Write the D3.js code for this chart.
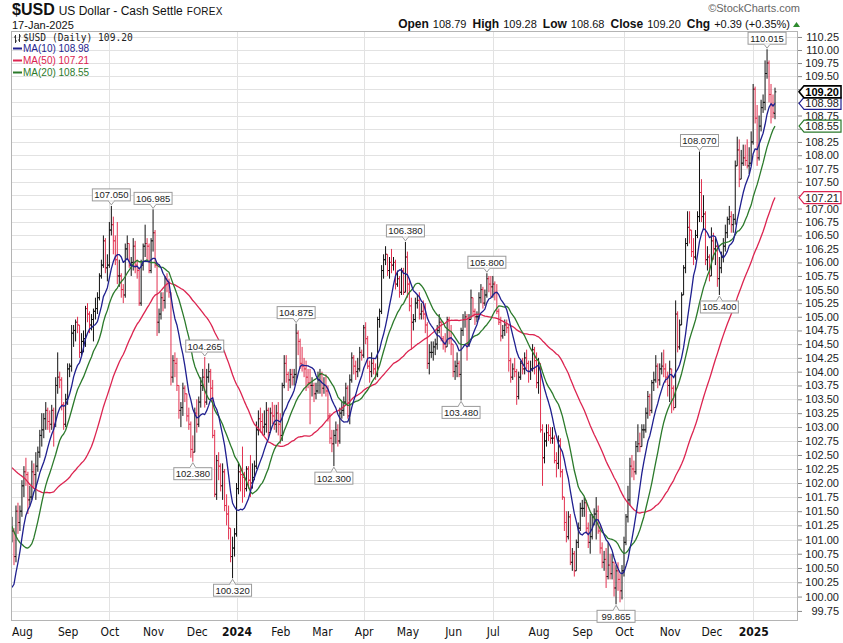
<!DOCTYPE html>
<html><head><meta charset="utf-8">
<script src="https://cdn.jsdelivr.net/npm/d3@7/dist/d3.min.js"></script>
<style>
html,body{margin:0;padding:0;background:#fff;}
svg{display:block;font-family:"Liberation Sans",Arial,sans-serif;}
</style></head>
<body>
<svg id="chart" width="843" height="643"></svg>
<script>
// ---------------- DATA ----------------
const symbol = "$USD";
const title = "US Dollar - Cash Settle";
const exchange = "FOREX";
const lastDate = "17-Jan-2025";
const holidays = ["2023-12-25","2024-01-01","2024-12-25","2025-01-01"];
const firstDay = "2023-07-25", lastDay = "2025-01-17";

// closes before the visible window (15-May-2023 .. 24-Jul-2023), used only for moving averages
const preClose = [102.08,102.21,102.53,103.20,102.85,102.85,103.15,103.55,103.90,103.85,103.95,103.75,103.95,103.20,103.65,
103.65,103.75,103.55,102.95,103.20,103.25,102.95,102.60,101.75,101.90,102.15,102.15,101.75,102.05,102.55,102.35,102.15,
102.65,103.05,102.55,102.50,102.50,102.90,102.70,101.80,101.20,101.20,100.15,99.45,99.55,99.55,99.55,99.95,100.45,100.75,101.05];

const open = [101.05,101.15,100.70,101.50,101.30,
101.50,101.95,102.20,102.15,101.70,101.75,102.20,102.15,102.30,102.55,102.85,102.95,103.15,103.30,103.10,103.05,103.30,103.05,103.75,103.90,103.85,103.40,103.05,
103.50,104.05,104.10,104.70,104.75,104.90,104.85,104.35,104.55,104.60,105.15,105.05,104.85,104.95,105.10,105.15,105.35,105.75,105.95,106.40,105.90,
105.95,106.60,106.70,106.40,106.05,105.75,105.75,105.50,105.40,106.25,106.35,105.95,106.00,106.30,105.95,105.85,105.25,105.95,106.30,106.35,106.30,105.85,
106.40,106.55,105.95,104.90,105.05,105.35,105.30,105.70,105.65,105.45,103.90,104.20,104.15,103.75,103.30,103.35,103.70,103.60,103.20,103.05,102.60,102.55,
103.25,103.05,103.45,103.75,103.90,103.45,103.90,104.00,103.70,102.85,101.80,102.40,102.30,101.95,102.20,101.60,101.45,101.20,100.70,100.85,
101.10,101.90,102.20,102.15,102.10,101.90,102.25,102.05,102.00,102.10,102.30,102.95,103.15,103.10,103.00,103.05,103.30,102.90,103.25,103.20,103.05,103.25,
103.05,102.85,103.75,104.15,103.95,103.85,103.95,103.90,103.95,104.70,104.55,104.15,104.10,104.05,103.90,103.80,103.75,103.75,103.60,103.65,103.85,
103.95,103.70,103.75,103.65,103.20,102.80,102.70,102.85,102.95,102.75,103.25,103.30,103.45,103.70,103.20,103.85,104.25,104.10,104.00,104.05,104.35,
104.30,104.80,104.60,104.10,104.00,104.15,104.05,103.95,104.95,105.10,105.85,106.05,106.15,105.85,106.00,105.95,106.00,105.60,105.70,105.45,105.85,105.45,
106.10,105.60,105.20,104.90,104.95,105.25,105.30,105.05,105.10,105.05,104.85,104.15,104.35,104.35,104.45,104.50,104.75,104.90,104.60,104.50,104.45,104.95,104.60,
104.50,104.00,104.10,104.15,103.95,104.75,104.95,105.00,104.50,104.95,105.35,105.10,105.00,105.00,105.35,105.50,105.25,105.40,105.70,105.60,
105.55,105.60,105.45,105.10,104.90,104.65,104.75,104.85,104.80,104.20,103.90,104.05,104.00,103.55,103.90,104.15,104.05,104.25,104.15,104.00,104.05,104.40,104.20,
103.80,104.15,102.95,102.45,102.75,102.90,102.85,102.80,102.80,102.40,102.35,102.75,102.20,101.75,101.30,101.05,101.40,100.60,100.75,100.45,100.95,101.20,
101.55,101.55,101.65,101.20,100.95,101.05,101.40,101.45,101.50,101.15,100.85,100.60,100.65,100.35,100.55,100.40,100.60,100.15,100.45,100.30,100.10,
100.45,100.95,101.40,101.70,102.30,102.25,102.20,102.65,102.70,102.65,102.95,102.95,103.25,103.55,103.30,103.80,103.85,104.10,103.85,104.05,104.10,104.05,103.90,
103.75,104.05,103.70,103.35,105.05,104.45,104.85,105.40,105.90,106.35,106.65,106.60,106.20,106.10,106.50,106.85,107.30,106.85,106.90,106.05,106.10,
105.75,106.40,106.25,106.30,105.70,105.90,106.10,106.30,106.55,106.80,106.85,106.70,106.80,107.80,108.10,107.55,107.85,107.95,107.90,107.80,107.85,
108.25,109.25,108.70,107.95,108.55,108.90,109.00,109.55,109.75,109.15,108.95,108.79];

const high = [101.40,101.20,101.60,101.65,101.60,
102.05,102.30,102.45,102.20,101.95,102.40,102.35,102.55,102.65,102.95,103.25,103.25,103.45,103.35,103.30,103.40,103.35,103.90,104.35,104.00,103.90,103.45,103.60,
104.15,104.15,104.85,104.85,104.95,105.00,104.85,104.70,104.75,105.20,105.25,105.10,105.05,105.15,105.35,105.45,105.80,106.05,106.50,106.45,106.15,
106.75,107.05,106.85,106.50,106.75,106.05,105.80,105.60,106.35,106.50,106.35,106.10,106.45,106.40,106.05,105.90,106.05,106.35,106.70,106.45,106.35,106.45,
106.985,106.60,106.00,105.15,105.45,105.45,105.75,105.80,105.70,105.45,104.30,104.35,104.25,103.75,103.45,103.80,103.75,103.60,103.35,103.10,102.85,103.35,
103.50,103.55,103.90,104.05,104.265,104.05,104.15,104.05,103.85,102.95,102.50,102.55,102.35,102.35,102.25,101.80,101.60,101.20,101.05,101.20,
102.00,102.35,102.30,102.65,102.20,102.30,102.30,102.50,102.35,102.40,103.10,103.30,103.35,103.25,103.30,103.45,103.35,103.35,103.45,103.40,103.40,103.45,
103.25,103.80,104.30,104.30,104.00,104.05,104.05,104.05,104.875,104.75,104.60,104.45,104.25,104.20,104.05,104.05,103.90,103.80,103.80,104.00,104.05,
104.00,103.90,103.95,103.75,103.25,102.95,102.95,103.10,103.05,103.35,103.45,103.55,103.80,103.75,103.95,104.35,104.30,104.20,104.25,104.45,104.40,
104.85,104.90,104.65,104.20,104.35,104.25,104.15,105.00,105.15,105.95,106.15,106.30,106.15,106.10,106.25,106.10,106.05,105.85,105.75,105.90,105.90,106.38,
106.20,105.70,105.35,105.05,105.35,105.40,105.45,105.25,105.30,105.25,104.90,104.50,104.55,104.55,104.60,104.85,105.05,104.95,104.65,104.70,105.00,105.00,104.85,
104.50,104.20,104.35,104.20,104.80,105.05,105.10,105.05,105.05,105.50,105.35,105.15,105.10,105.45,105.60,105.55,105.50,105.80,105.75,105.75,
105.75,105.65,105.60,105.15,105.00,104.85,104.95,104.95,104.85,104.25,104.15,104.25,104.05,104.00,104.20,104.25,104.35,104.40,104.20,104.20,104.50,104.45,104.35,
104.25,104.15,103.05,102.90,103.05,103.05,103.00,103.00,102.85,102.55,102.85,102.80,102.25,101.75,101.50,101.50,101.45,100.85,100.80,101.00,101.30,101.65,
101.70,101.75,101.70,101.30,101.45,101.45,101.55,101.75,101.60,101.25,100.95,100.80,100.85,100.95,100.75,100.75,100.60,100.55,100.60,100.40,100.55,
101.05,101.45,101.95,102.45,102.50,102.40,102.75,103.05,102.90,103.05,103.05,103.35,103.65,103.60,103.85,104.00,104.30,104.15,104.15,104.35,104.40,104.15,104.00,
104.20,104.05,103.75,105.30,105.10,104.95,105.45,105.95,106.45,106.95,106.95,106.60,106.45,106.60,106.95,108.07,107.55,107.25,106.95,106.30,106.15,
106.65,106.55,106.45,106.35,106.10,106.20,106.45,106.70,106.85,107.05,106.95,106.90,107.90,108.35,108.30,108.10,108.20,108.20,108.30,108.15,108.45,
109.35,109.30,108.95,108.75,109.05,109.15,109.80,110.015,109.80,109.35,109.15,109.28];

const low = [100.95,100.55,100.60,101.10,101.15,
101.40,101.75,101.95,101.45,101.60,101.70,101.90,101.70,102.20,102.45,102.65,102.80,102.95,102.95,102.90,102.95,102.65,103.00,103.60,103.70,103.30,102.95,103.00,
103.40,103.90,104.00,104.45,104.55,104.70,104.25,104.30,104.35,104.45,104.90,104.70,104.75,104.55,104.95,105.05,105.30,105.70,105.90,105.80,105.65,
105.90,106.50,106.15,105.95,105.60,105.55,105.35,105.25,105.35,106.05,105.90,105.75,105.85,105.80,105.70,105.20,105.20,105.85,106.10,106.05,105.80,105.80,
106.20,105.90,104.65,104.70,104.95,105.10,105.15,105.45,105.35,103.75,103.80,103.90,103.65,103.15,103.00,103.20,103.45,103.10,102.95,102.45,102.38,102.55,
102.90,103.00,103.35,103.65,103.35,103.40,103.80,103.50,102.80,101.75,101.70,102.05,101.85,101.70,101.50,101.25,101.00,100.60,100.32,100.70,
101.05,101.80,101.85,101.65,101.75,101.85,101.90,101.75,101.90,102.05,102.25,102.85,102.90,102.85,102.85,102.90,102.80,102.90,103.05,102.95,102.90,102.85,
102.70,102.75,103.70,103.80,103.65,103.70,103.75,103.75,103.80,104.30,104.05,104.00,103.90,103.65,103.70,103.05,103.55,103.45,103.50,103.60,103.60,
103.55,103.60,103.55,103.10,102.70,102.55,102.30,102.70,102.65,102.70,103.15,103.20,103.40,103.15,103.05,103.80,103.95,103.85,103.90,104.00,104.20,
104.25,104.50,104.05,103.80,103.90,103.95,103.85,103.90,104.80,105.05,105.70,105.95,105.75,105.70,105.80,105.85,105.50,105.55,105.35,105.40,105.40,105.45,
105.35,105.10,104.40,104.75,104.90,105.15,104.95,104.95,104.95,104.70,104.05,103.95,104.25,104.20,104.30,104.40,104.70,104.55,104.40,104.35,104.45,104.50,104.30,
103.90,103.85,103.90,103.90,103.48,104.65,104.80,104.20,104.45,104.95,105.00,104.85,104.90,104.95,105.25,105.15,105.20,105.35,105.45,105.35,
105.35,105.30,105.05,104.85,104.55,104.60,104.65,104.70,104.00,103.80,103.85,103.90,103.40,103.50,103.85,103.95,103.95,104.05,103.80,103.85,104.00,103.95,103.70,
103.60,102.90,101.95,102.35,102.65,102.75,102.70,102.70,102.35,102.10,102.25,102.10,101.70,101.15,100.95,101.00,100.55,100.45,100.35,100.45,100.85,101.15,
101.40,101.40,101.10,100.85,100.75,101.00,101.25,101.00,101.10,100.75,100.50,100.45,100.15,100.30,100.30,100.30,100.00,99.865,100.10,99.90,99.95,
100.35,100.90,101.30,101.60,102.10,102.05,102.15,102.55,102.55,102.65,102.80,102.90,103.15,103.20,103.25,103.65,103.80,103.70,103.75,103.95,103.90,103.80,103.55,
103.45,103.25,103.30,103.35,104.35,104.40,104.85,105.40,105.80,106.30,106.35,106.10,105.95,106.05,106.45,106.75,106.75,106.60,105.95,105.85,105.65,
105.75,106.05,105.95,105.55,105.40,105.80,106.00,106.20,106.45,106.70,106.55,106.55,106.70,107.80,107.40,107.55,107.80,107.80,107.75,107.65,107.80,
108.20,108.60,107.80,107.90,108.45,108.80,108.85,109.45,109.00,108.60,108.70,108.68];

const close = [101.15,100.70,101.50,101.30,101.50,
101.95,102.20,102.15,101.70,101.75,102.20,102.15,102.30,102.55,102.85,102.95,103.15,103.30,103.10,103.05,103.30,103.05,103.75,103.90,103.85,103.40,103.05,103.50,
104.05,104.10,104.70,104.75,104.90,104.85,104.35,104.55,104.60,105.15,105.05,104.85,104.95,105.10,105.15,105.35,105.75,105.95,106.40,105.90,105.95,
106.60,106.70,106.40,106.05,105.75,105.75,105.50,105.40,106.25,106.35,105.95,106.00,106.30,105.95,105.85,105.25,105.95,106.30,106.35,106.30,105.85,106.40,
106.55,105.95,104.90,105.05,105.35,105.30,105.70,105.65,105.45,103.90,104.20,104.15,103.75,103.30,103.35,103.70,103.60,103.20,103.05,102.60,102.55,103.25,
103.05,103.45,103.75,103.90,103.45,103.90,104.00,103.70,102.85,101.80,102.40,102.30,101.95,102.20,101.60,101.45,101.20,100.70,100.85,101.10,
101.90,102.20,102.15,102.10,101.90,102.25,102.05,102.00,102.10,102.30,102.95,103.15,103.10,103.00,103.05,103.30,102.90,103.25,103.20,103.05,103.25,103.05,
102.85,103.75,104.15,103.95,103.85,103.95,103.90,103.95,104.70,104.55,104.15,104.10,104.05,103.90,103.80,103.75,103.75,103.60,103.65,103.85,103.95,
103.70,103.75,103.65,103.20,102.80,102.70,102.85,102.95,102.75,103.25,103.30,103.45,103.70,103.20,103.85,104.25,104.10,104.00,104.05,104.35,104.30,
104.80,104.60,104.10,104.00,104.15,104.05,103.95,104.95,105.10,105.85,106.05,106.15,105.85,106.00,105.95,106.00,105.60,105.70,105.45,105.85,105.45,106.10,
105.60,105.20,104.90,104.95,105.25,105.30,105.05,105.10,105.05,104.85,104.15,104.35,104.35,104.45,104.50,104.75,104.90,104.60,104.50,104.45,104.95,104.60,104.50,
104.00,104.10,104.15,103.95,104.75,104.95,105.00,104.50,104.95,105.35,105.10,105.00,105.00,105.35,105.50,105.25,105.40,105.70,105.60,105.55,
105.60,105.45,105.10,104.90,104.65,104.75,104.85,104.80,104.20,103.90,104.05,104.00,103.55,103.90,104.15,104.05,104.25,104.15,104.00,104.05,104.40,104.20,103.80,
104.15,102.95,102.45,102.75,102.90,102.85,102.80,102.80,102.40,102.35,102.75,102.20,101.75,101.30,101.05,101.40,100.60,100.75,100.45,100.95,101.20,101.55,
101.55,101.65,101.20,100.95,101.05,101.40,101.45,101.50,101.15,100.85,100.60,100.65,100.35,100.55,100.40,100.60,100.15,100.45,100.30,100.10,100.45,
100.95,101.40,101.70,102.30,102.25,102.20,102.65,102.70,102.65,102.95,102.95,103.25,103.55,103.30,103.80,103.85,104.10,103.85,104.05,104.10,104.05,103.90,103.75,
104.05,103.70,103.35,105.05,104.45,104.85,105.40,105.90,106.35,106.65,106.60,106.20,106.10,106.50,106.85,107.30,106.85,106.90,106.05,106.10,105.75,
106.40,106.25,106.30,105.70,105.90,106.10,106.30,106.55,106.80,106.85,106.70,106.80,107.80,108.10,107.55,107.85,107.95,107.90,107.80,107.85,108.25,
109.25,108.70,107.95,108.55,108.90,109.00,109.55,109.75,109.15,108.95,108.81,109.20];

const monthLabels = ["Aug","Sep","Oct","Nov","Dec","2024","Feb","Mar","Apr","May","Jun","Jul","Aug","Sep","Oct","Nov","Dec","2025"];
const yTickLabels = ["99.75","100.00","100.25","100.50","100.75","101.00","101.25","101.50","101.75","102.00","102.25","102.50","102.75",
"103.00","103.25","103.50","103.75","104.00","104.25","104.50","104.75","105.00","105.25","105.50","105.75","106.00","106.25","106.50",
"106.75","107.00","107.25","107.50","107.75","108.00","108.25","108.50","108.75","109.00","109.25","109.50","109.75","110.00","110.25"];
const maPeriods = [10, 50, 20];
const maColors = ["#1f1f8f", "#dc2450", "#2b7a2b"];
const peakMarks = [["2023-10-03","high"],["2023-11-01","high"],["2023-11-29","low"],["2023-12-07","high"],["2023-12-28","low"],
["2024-02-13","high"],["2024-03-11","low"],["2024-04-30","high"],["2024-06-07","low"],["2024-06-26","high"],["2024-09-25","low"],
["2024-11-22","high"],["2024-12-06","low"],["2025-01-13","high"]];
const quote = {open:"108.79", high:"109.28", low:"108.68", close:"109.20", chg:"+0.39 (+0.35%)"};

// ---------------- BUILD ----------------
const hol = new Set(holidays);
const dates = [];
for (let d = new Date(firstDay + "T00:00:00Z"); d <= new Date(lastDay + "T00:00:00Z"); d.setUTCDate(d.getUTCDate() + 1)) {
  const wd = d.getUTCDay(), s = d.toISOString().slice(0, 10);
  if (wd > 0 && wd < 6 && !hol.has(s)) dates.push(s);
}
const n = Math.min(dates.length, close.length, open.length, high.length, low.length);
const bars = d3.range(n).map(i => ({
  d: dates[i], o: open[i], h: high[i], l: low[i], c: close[i],
  prev: i ? close[i - 1] : preClose[preClose.length - 1]
}));
const allClose = preClose.concat(close.slice(0, n));
function movingAvg(p) {
  return bars.map((b, i) => {
    const k = preClose.length + i;
    return d3.mean(allClose.slice(k - p + 1, k + 1));
  });
}

const P = {l: 11, r: 798, t: 31, b: 621};
const x = d3.scalePoint().domain(dates.slice(0, n)).range([12, 775]);
const y = d3.scaleLog().domain([99.575, 110.365]).range([P.b, P.t]);
const svg = d3.select("#chart");
svg.append("rect").attr("width", 843).attr("height", 643).attr("fill", "#fff");

const monthStarts = dates.slice(0, n).filter((d, i) => i > 0 && d.slice(5, 7) !== dates[i - 1].slice(5, 7));
const quarterStarts = monthStarts.filter(d => ["01","04","07","10"].includes(d.slice(5, 7)));
const yTickValues = yTickLabels.map(Number);

const maSeries = maPeriods.map((p, k) => ({p, color: maColors[k], vals: movingAvg(p)}));
const last = bars[bars.length - 1];
const tagValues = [last.c].concat(maSeries.map(s => s.vals[n - 1]));

// grid
const grid = svg.append("g").attr("stroke", "#e2e2e2").attr("stroke-width", 1);
grid.selectAll("line.h").data(yTickValues).join("line")
  .attr("x1", P.l).attr("x2", P.r)
  .attr("y1", d => Math.round(y(d)) + 0.5).attr("y2", d => Math.round(y(d)) + 0.5);
grid.selectAll("line.v").data(quarterStarts).join("line")
  .attr("y1", P.t).attr("y2", P.b)
  .attr("x1", d => Math.round(x(d)) + 0.5).attr("x2", d => Math.round(x(d)) + 0.5);

// clip
svg.append("clipPath").attr("id", "pc").append("rect")
  .attr("x", P.l).attr("y", P.t).attr("width", P.r - P.l).attr("height", P.b - P.t);
const plot = svg.append("g").attr("clip-path", "url(#pc)");

// OHLC bars
plot.append("g").selectAll("path").data(bars).join("path")
  .attr("fill", "none").attr("stroke-width", 1)
  .attr("stroke", b => b.c >= b.prev ? "#111111" : "#e2304f")
  .attr("d", b => {
    const cx = x(b.d);
    return `M${cx},${y(b.h)}V${y(b.l)}M${cx - 1.4},${y(b.o)}H${cx}M${cx},${y(b.c)}H${cx + 1.4}`;
  });

// moving averages (drawn 50, 20, then 10 on top)
const line = d3.line().x((v, i) => x(bars[i].d)).y(v => y(v)).curve(d3.curveLinear);
[1, 2, 0].forEach(k => {
  plot.append("path").datum(maSeries[k].vals)
    .attr("fill", "none").attr("stroke", maSeries[k].color).attr("stroke-width", 1.3)
    .attr("stroke-linejoin", "round").attr("d", line);
});

// frame
svg.append("rect").attr("x", P.l + 0.5).attr("y", P.t + 0.5)
  .attr("width", P.r - P.l - 1).attr("height", P.b - P.t - 1)
  .attr("fill", "none").attr("stroke", "#b4b4b4");

// y axis (right) - labels hidden under the price tags are not drawn
const shownTicks = yTickValues.filter(t => tagValues.every(v => Math.abs(y(t) - y(v)) >= 9));
const yAxis = d3.axisRight(y).tickValues(yTickValues).tickFormat(d => yTickLabels[yTickValues.indexOf(d)]).tickSize(4).tickPadding(2);
const ga = svg.append("g").attr("transform", `translate(${P.r},0)`).call(yAxis);
ga.select(".domain").remove();
ga.attr("font-family", '"Liberation Sans",Arial,sans-serif').attr("font-size", 11);
ga.selectAll(".tick line").attr("stroke", "#888");
ga.selectAll(".tick text").attr("x", 41).attr("text-anchor", "end").attr("fill", "#222");
ga.selectAll(".tick").filter(d => !shownTicks.includes(d)).select("text").remove();

// x axis (bottom)
const xAxis = d3.axisBottom(x).tickValues(monthStarts).tickFormat((d, i) => monthLabels[i]).tickSize(0).tickPadding(0);
const gx = svg.append("g").attr("transform", `translate(0,${P.b})`).call(xAxis);
gx.select(".domain").remove();
gx.attr("font-family", '"Liberation Sans Narrow","DejaVu Sans Condensed","Arial Narrow",sans-serif').attr("font-size", 12);
gx.selectAll(".tick text").attr("y", 15).attr("dy", 0).attr("fill", "#111")
  .attr("font-weight", (d, i) => /^\d{4}$/.test(monthLabels[i]) ? "bold" : "normal");

// peak labels
const pk = svg.append("g").attr("font-family", '"Liberation Sans",Arial,sans-serif').attr("font-size", 9.5);
peakMarks.forEach(([d, kind]) => {
  const b = bars.find(e => e.d === d);
  if (!b) return;
  const v = kind === "high" ? b.h : b.l;
  const txt = v.toFixed(3);
  const cx = x(d), vy = y(v);
  const w = 38, h = 12;
  const top = kind === "high" ? vy - 5 - h : vy + 6;
  const g = pk.append("g");
  const tipY = kind === "high" ? vy - 1 : vy + 1;
  const baseY = kind === "high" ? top + h : top;
  g.append("path").attr("d", `M${cx - 3},${baseY}L${cx},${tipY}L${cx + 3},${baseY}`)
    .attr("fill", "#fff").attr("stroke", "#9a9a9a");
  g.append("rect").attr("x", cx - w / 2).attr("y", top).attr("width", w).attr("height", h)
    .attr("fill", "#fff").attr("stroke", "#9a9a9a");
  g.append("path").attr("d", `M${cx - 2.5},${baseY}H${cx + 2.5}`).attr("stroke", "#fff").attr("stroke-width", 1.2);
  g.append("text").attr("x", cx).attr("y", top + 9.5).attr("text-anchor", "middle").attr("fill", "#222").text(txt);
});

// price tags at right
function tag(v, color, bold) {
  const ty = y(v);
  const g = svg.append("g");
  g.append("path").attr("d", `M${P.r + 1},${ty}L${P.r + 6},${ty - 6}H${841}V${ty + 6}H${P.r + 6}Z`)
    .attr("fill", "#fff").attr("stroke", color).attr("stroke-width", bold ? 1.6 : 1.2);
  g.append("text").attr("x", 839).attr("y", ty + 4).attr("text-anchor", "end")
    .attr("font-size", 11).attr("font-weight", bold ? "bold" : "normal").attr("fill", bold ? "#000" : "#222").text(v.toFixed(2));
}
tag(maSeries[1].vals[n - 1], maColors[1], false);
tag(maSeries[2].vals[n - 1], maColors[2], false);
tag(maSeries[0].vals[n - 1], maColors[0], false);
tag(last.c, "#000", true);

// legend
const lg = svg.append("g");
const icon = lg.append("g").attr("stroke", "#333").attr("stroke-width", 1);
icon.append("path").attr("d", "M15.5,35V43M14,37H15.5M15.5,41H17M19.5,34V42M18,40H19.5M19.5,36H21");
lg.append("text").attr("x", 23).attr("y", 41).attr("font-family", '"DejaVu Sans Mono",monospace').attr("font-size", 9.6)
  .attr("fill", "#222").text(`${symbol} (Daily) ${last.c.toFixed(2)}`);
[0, 1, 2].forEach((k, j) => {
  const yy = 48.5 + j * 12;
  lg.append("line").attr("x1", 13).attr("x2", 22).attr("y1", yy).attr("y2", yy)
    .attr("stroke", maColors[k]).attr("stroke-width", 2);
  lg.append("text").attr("x", 23).attr("y", yy + 3.5).attr("font-size", 10).attr("fill", maColors[k])
    .text(`MA(${maPeriods[k]}) ${maSeries[k].vals[n - 1].toFixed(2)}`);
});

// header
const hd = svg.append("text").attr("x", 12).attr("y", 15).attr("fill", "#111");
hd.append("tspan").attr("font-family", '"Liberation Sans Narrow","Liberation Sans",Arial,sans-serif')
  .attr("font-weight", "bold").attr("font-size", 16).text(symbol);
hd.append("tspan").attr("dx", 4).attr("font-size", 12).text(title);
hd.append("tspan").attr("dx", 4).attr("font-size", 10).attr("letter-spacing", 0.3).text(exchange);
svg.append("text").attr("x", 12).attr("y", 29).attr("font-size", 11).attr("fill", "#111").text(lastDate);
svg.append("text").attr("x", 800).attr("y", 12).attr("text-anchor", "end").attr("font-size", 11)
  .attr("fill", "#666").text("\u00A9StockCharts.com");
const q = svg.append("text").attr("x", 790).attr("y", 28).attr("text-anchor", "end").attr("fill", "#111");
[["Open", quote.open], ["High", quote.high], ["Low", quote.low], ["Close", quote.close], ["Chg", quote.chg]].forEach(([k, v], i) => {
  q.append("tspan").attr("dx", i ? 6 : 0).attr("font-weight", "bold").attr("font-size", 12).text(k);
  q.append("tspan").attr("dx", 4).attr("font-size", 11).text(v);
});
svg.append("path").attr("d", "M793,27L796.5,22L800,27Z").attr("fill", "#2e8b2e");
</script>
</body></html>
